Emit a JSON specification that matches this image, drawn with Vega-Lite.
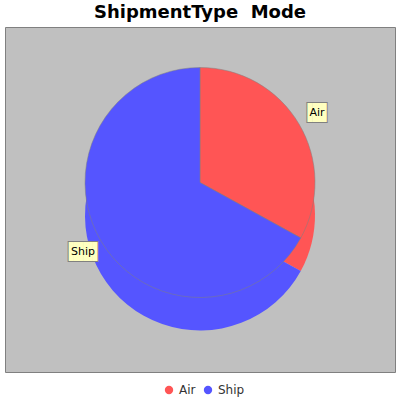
{
  "$schema": "https://vega.github.io/schema/vega-lite/v6.json",
  "autosize": {"type": "none"},
  "width": 390,
  "height": 345,
  "padding": {"top": 27, "left": 5, "right": 5, "bottom": 28},
  "background": "white",
  "view": {"fill": "#C0C0C0", "stroke": "#808080", "strokeWidth": 1},
  "title": {"text": "ShipmentType\u00a0 Mode", "font": "DejaVu Sans", "fontSize": 18, "fontWeight": "bold", "color": "black", "offset": 5, "anchor": "middle"},
  "data": {"values": [{"mode": "Air", "count": 33}, {"mode": "Ship", "count": 67}]},
  "encoding": {
    "theta": {"field": "count", "type": "quantitative", "stack": true},
    "color": {
      "field": "mode", "type": "nominal",
      "scale": {"domain": ["Air", "Ship"], "range": ["#FF5555", "#5555FF"]},
      "legend": {"orient": "none", "legendX": 158, "legendY": 357, "direction": "horizontal", "title": null, "symbolType": "circle", "symbolSize": 70, "symbolStrokeWidth": 0, "labelFont": "DejaVu Sans", "labelFontSize": 12, "labelColor": "#333", "columnPadding": 6}
    }
  },
  "layer": [
    {"mark": {"type": "arc", "outerRadius": 115, "yOffset": 16}},
    {"mark": {"type": "arc", "outerRadius": 115, "yOffset": -17, "stroke": "#808080", "strokeWidth": 1, "strokeOpacity": 0.5}},
    {"mark": {"type": "text", "font": "DejaVu Sans Mono", "fontSize": 16, "yOffset": -17, "baseline": "middle", "stroke": "#808080", "strokeWidth": 2},
     "encoding": {"radius": {"value": 136}, "color": {"value": "#FFFFC0"},
       "text": {"condition": {"test": "datum.mode === 'Air'", "value": "▐█▌"}, "value": "▐██▌"}}},
    {"mark": {"type": "text", "font": "DejaVu Sans Mono", "fontSize": 16, "yOffset": -17, "baseline": "middle"},
     "encoding": {"radius": {"value": 136}, "color": {"value": "#FFFFC0"},
       "text": {"condition": {"test": "datum.mode === 'Air'", "value": "▐█▌"}, "value": "▐██▌"}}},
    {"mark": {"type": "text", "font": "DejaVu Sans", "fontSize": 11, "yOffset": -17, "baseline": "middle"},
     "encoding": {"radius": {"value": 136}, "color": {"value": "black"}, "text": {"field": "mode"}}}
  ]
}
